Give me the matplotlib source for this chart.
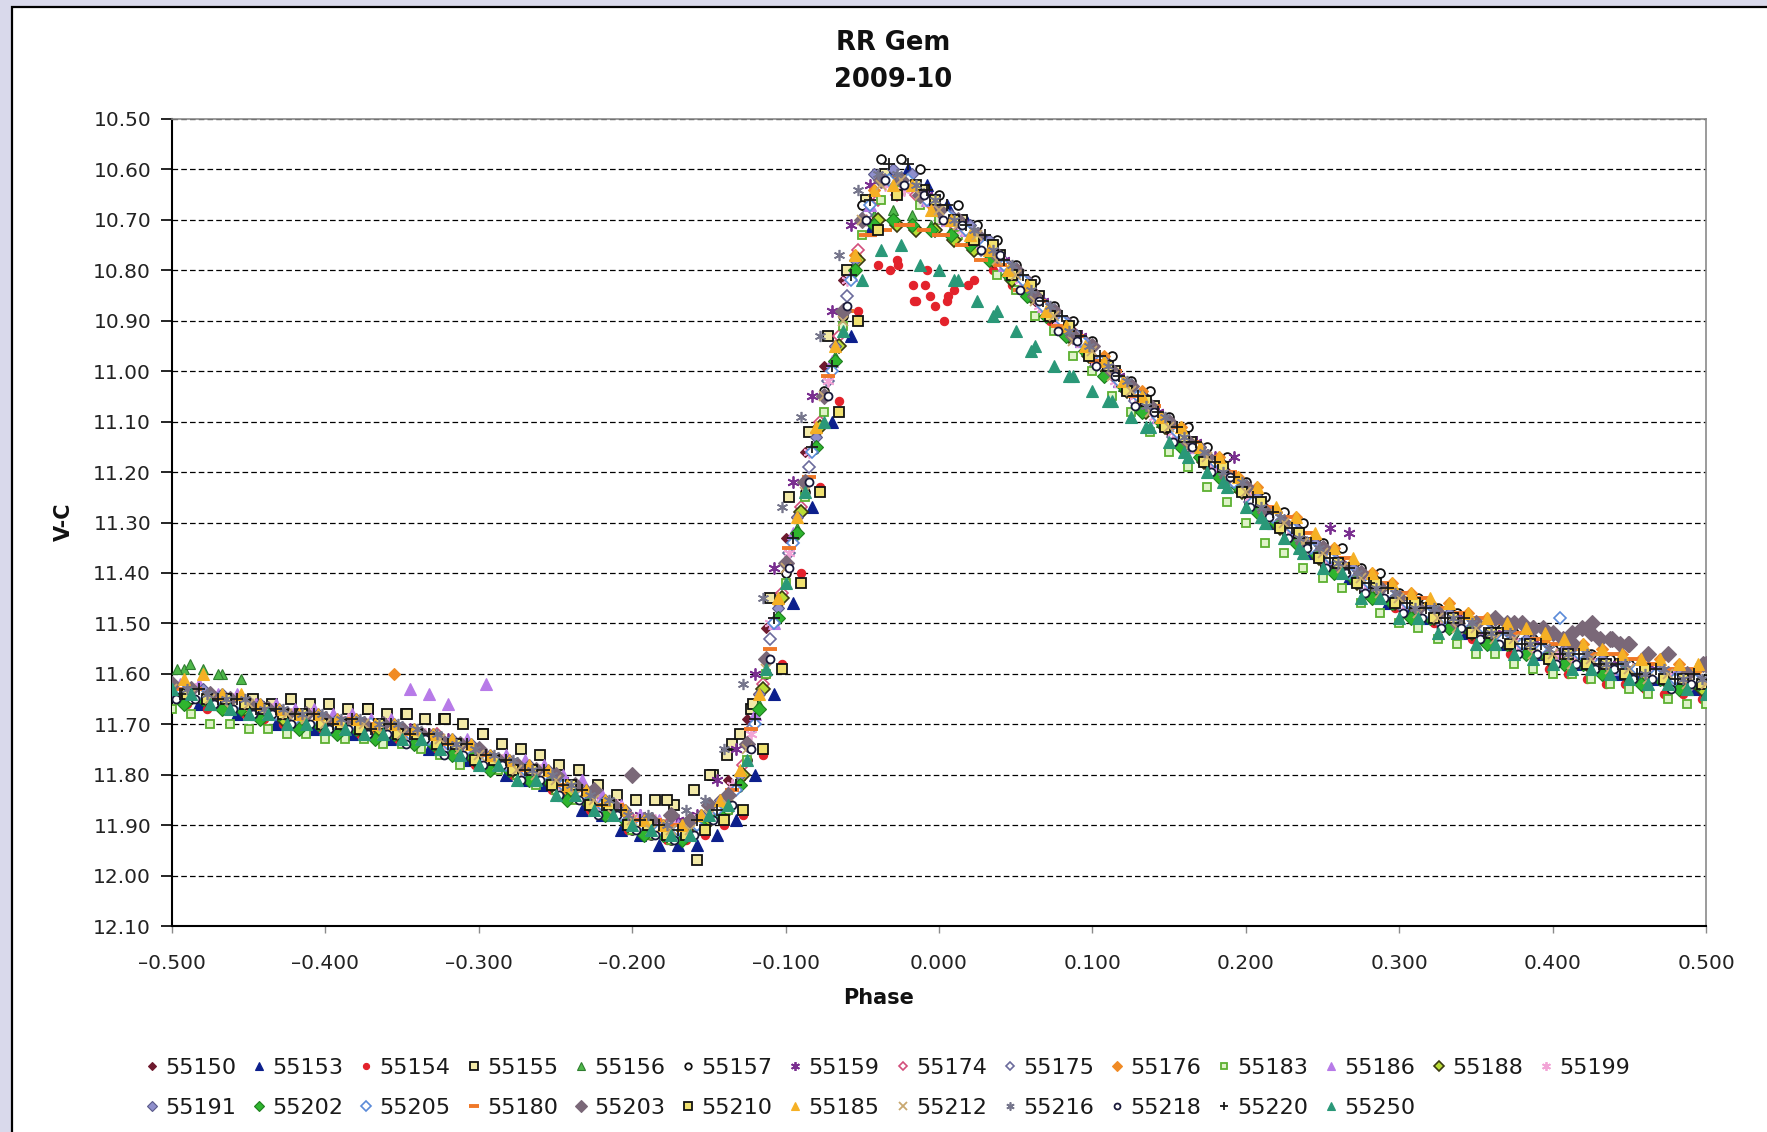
import numpy as np
import matplotlib
matplotlib.use("Agg")
import matplotlib.pyplot as plt
from matplotlib.lines import Line2D
from matplotlib.patches import Rectangle

plt.rcParams['font.family'] = ['DejaVu Sans']

# ---------------- data: phase samples ----------------
P0 = [-0.500, -0.475, -0.450, -0.425, -0.400, -0.375, -0.350, -0.325, -0.300, -0.275, -0.250, -0.225, -0.200, -0.175,
      -0.150, -0.125, -0.100, -0.075, -0.050, -0.025, 0.000, 0.025, 0.050, 0.075, 0.100, 0.125, 0.150, 0.175, 0.200,
      0.225, 0.250, 0.275, 0.300, 0.325, 0.350, 0.375, 0.400, 0.425, 0.450, 0.475, 0.500]
P1 = [-0.495, -0.470, -0.445, -0.420, -0.395, -0.370, -0.345, -0.320, -0.295, -0.270, -0.245, -0.220, -0.195, -0.170,
      -0.145, -0.120, -0.095, -0.070, -0.045, -0.020, 0.005, 0.030, 0.055, 0.080, 0.105, 0.130, 0.155, 0.180, 0.205,
      0.230, 0.255, 0.280, 0.305, 0.330, 0.355, 0.380, 0.405, 0.430, 0.455, 0.480]
P2 = [-0.490, -0.465, -0.440, -0.415, -0.390, -0.365, -0.340, -0.315, -0.290, -0.265, -0.240, -0.215, -0.190, -0.165,
      -0.140, -0.115, -0.090, -0.065, -0.040, -0.015, 0.010, 0.035, 0.060, 0.085, 0.110, 0.135, 0.160, 0.185, 0.210,
      0.235, 0.260, 0.285, 0.310, 0.335, 0.360, 0.385, 0.410, 0.435, 0.460, 0.485]
P3 = [-0.485, -0.460, -0.435, -0.410, -0.385, -0.360, -0.335, -0.310, -0.285, -0.260, -0.235, -0.210, -0.185, -0.160,
      -0.135, -0.110, -0.085, -0.060, -0.035, -0.010, 0.015, 0.040, 0.065, 0.090, 0.115, 0.140, 0.165, 0.190, 0.215,
      0.240, 0.265, 0.290, 0.315, 0.340, 0.365, 0.390, 0.415, 0.440, 0.465, 0.490]
P4 = [-0.480, -0.455, -0.430, -0.405, -0.380, -0.355, -0.330, -0.305, -0.280, -0.255, -0.230, -0.205, -0.180, -0.155,
      -0.130, -0.105, -0.080, -0.055, -0.030, -0.005, 0.020, 0.045, 0.070, 0.095, 0.120, 0.145, 0.170, 0.195, 0.220,
      0.245, 0.270, 0.295, 0.320, 0.345, 0.370, 0.395, 0.420, 0.445, 0.470, 0.495]
Q0 = [-0.4875, -0.4625, -0.4375, -0.4125, -0.3875, -0.3625, -0.3375, -0.3125, -0.2875, -0.2625, -0.2375, -0.2125,
      -0.1875, -0.1625, -0.1375, -0.1125, -0.0875, -0.0625, -0.0375, -0.0125, 0.0125, 0.0375, 0.0625, 0.0875, 0.1125,
      0.1375, 0.1625, 0.1875, 0.2125, 0.2375, 0.2625, 0.2875, 0.3125, 0.3375, 0.3625, 0.3875, 0.4125, 0.4375, 0.4625, 0.4875]
Q1 = [-0.4825, -0.4575, -0.4325, -0.4075, -0.3825, -0.3575, -0.3325, -0.3075, -0.2825, -0.2575, -0.2325, -0.2075,
      -0.1825, -0.1575, -0.1325, -0.1075, -0.0825, -0.0575, -0.0325, -0.0075, 0.0175, 0.0425, 0.0675, 0.0925, 0.1175,
      0.1425, 0.1675, 0.1925, 0.2175, 0.2425, 0.2675, 0.2925, 0.3175, 0.3425, 0.3675, 0.3925, 0.4175, 0.4425, 0.4675, 0.4925]
Q2 = [-0.4775, -0.4525, -0.4275, -0.4025, -0.3775, -0.3525, -0.3275, -0.3025, -0.2775, -0.2525, -0.2275, -0.2025,
      -0.1775, -0.1525, -0.1275, -0.1025, -0.0775, -0.0525, -0.0275, -0.0025, 0.0225, 0.0475, 0.0725, 0.0975, 0.1225,
      0.1475, 0.1725, 0.1975, 0.2225, 0.2475, 0.2725, 0.2975, 0.3225, 0.3475, 0.3725, 0.3975, 0.4225, 0.4475, 0.4725, 0.4975]
Q3 = [-0.4975, -0.4725, -0.4475, -0.4225, -0.3975, -0.3725, -0.3475, -0.3225, -0.2975, -0.2725, -0.2475, -0.2225,
      -0.1975, -0.1725, -0.1475, -0.1225, -0.0975, -0.0725, -0.0475, -0.0225, 0.0025, 0.0275, 0.0525, 0.0775, 0.1025,
      0.1275, 0.1525, 0.1775, 0.2025, 0.2275, 0.2525, 0.2775, 0.3025, 0.3275, 0.3525, 0.3775, 0.4025, 0.4275, 0.4525, 0.4775]
Q4 = [-0.4925, -0.4675, -0.4425, -0.4175, -0.3925, -0.3675, -0.3425, -0.3175, -0.2925, -0.2675, -0.2425, -0.2175,
      -0.1925, -0.1675, -0.1425, -0.1175, -0.0925, -0.0675, -0.0425, -0.0175, 0.0075, 0.0325, 0.0575, 0.0825, 0.1075,
      0.1325, 0.1575, 0.1825, 0.2075, 0.2325, 0.2575, 0.2825, 0.3075, 0.3325, 0.3575, 0.3825, 0.4075, 0.4325, 0.4575, 0.4825]

# ---------------- data: V-C magnitudes, first sample set (on P grids) ----------------
M_55150 = [11.63, 11.65, 11.67, 11.68, 11.70, 11.70, 11.72, 11.74, 11.76, 11.79, 11.82, 11.86, 11.89, 11.91, 11.86, 11.69, 11.33, 10.99, 10.67, 10.63,
           10.69, 10.74, 10.81, 10.89, 10.97, 11.04, 11.12, 11.18, 11.24, 11.31, 11.36, 11.41, 11.46, 11.49, 11.51, 11.54, 11.56, 11.58, 11.59, 11.61, 11.62]
M_55157 = [11.64, 11.66, 11.68, 11.69, 11.71, 11.71, 11.73, 11.75, 11.77, 11.80, 11.83, 11.87, 11.91, 11.93, 11.89, 11.77, 11.40, 11.04, 10.67, 10.58,
           10.65, 10.71, 10.79, 10.87, 10.94, 11.02, 11.09, 11.15, 11.22, 11.28, 11.34, 11.39, 11.44, 11.47, 11.50, 11.52, 11.55, 11.56, 11.58, 11.60, 11.61]
M_55183 = [11.67, 11.70, 11.71, 11.72, 11.73, 11.73, 11.74, 11.76, 11.78, 11.80, 11.83, 11.87, 11.91, 11.93, 11.89, 11.77, 11.42, 11.08, 10.73, 10.64,
           10.70, 10.76, 10.84, 10.92, 11.00, 11.08, 11.16, 11.23, 11.30, 11.36, 11.41, 11.46, 11.50, 11.53, 11.56, 11.58, 11.60, 11.61, 11.63, 11.65, 11.66]
M_55203 = [11.62, 11.64, 11.66, 11.68, 11.69, 11.70, 11.71, 11.73, 11.75, 11.78, 11.80, 11.83, 11.80, 11.88, 11.86, 11.74, 11.38, 11.05, 10.70, 10.62,
           10.68, 10.73, 10.80, 10.88, 10.95, 11.03, 11.10, 11.17, 11.23, 11.30, 11.35, 11.40, 11.45, 11.48, 11.50, 11.50, 11.52, 11.52, 11.54, 11.56, 11.58]
M_55212 = [11.63, 11.65, 11.66, 11.68, 11.70, 11.70, 11.72, 11.73, 11.76, 11.79, 11.81, 11.85, 11.89, 11.91, 11.88, 11.75, 11.39, 11.05, 10.70, 10.62,
           10.68, 10.73, 10.81, 10.89, 10.96, 11.04, 11.11, 11.17, 11.24, 11.30, 11.36, 11.41, 11.45, 11.49, 11.51, 11.53, 11.56, 11.57, 11.59, 11.60, 11.62]
M_55250 = [11.63, 11.66, 11.68, 11.70, 11.71, 11.72, 11.73, 11.75, 11.78, 11.81, 11.84, 11.87, 11.90, 11.92, 11.88, 11.77, 11.42, 11.10, 10.82, 10.75,
           10.80, 10.86, 10.92, 10.99, 11.04, 11.09, 11.14, 11.20, 11.27, 11.33, 11.39, 11.45, 11.49, 11.52, 11.54, 11.56, 11.58, 11.59, 11.61, 11.62, 11.64]

M_55153 = [11.64, 11.66, 11.68, 11.70, 11.71, 11.72, 11.73, 11.75, 11.78, 11.81, 11.84, 11.88, 11.92, 11.94, 11.92, 11.80, 11.46, 11.10, 10.72, 10.60,
           10.67, 10.74, 10.82, 10.90, 10.98, 11.05, 11.12, 11.18, 11.25, 11.31, 11.37, 11.42, 11.47, 11.50, 11.52, 11.55, 11.57, 11.59, 11.60, 11.62]
M_55159 = [11.63, 11.65, 11.66, 11.68, 11.69, 11.70, 11.71, 11.73, 11.76, 11.78, 11.81, 11.85, 11.88, 11.89, 11.81, 11.60, 11.22, 10.88, 10.63, 10.62,
           10.69, 10.75, 10.83, 10.90, 10.98, 11.06, 11.12, 11.17, 11.25, 11.32, 11.31, 11.42, 11.46, 11.49, 11.52, 11.54, 11.56, 11.58, 11.59, 11.61]
M_55186 = [11.62, 11.64, 11.66, 11.67, 11.68, 11.69, 11.63, 11.66, 11.62, 11.77, 11.80, 11.84, 11.88, 11.90, 11.86, 11.68, 11.32, 10.98, 10.67, 10.63,
           10.70, 10.75, 10.83, 10.91, 10.98, 11.06, 11.12, 11.19, 11.26, 11.32, 11.37, 11.42, 11.46, 11.49, 11.52, 11.54, 11.56, 11.58, 11.59, 11.60]
M_55205 = [11.63, 11.65, 11.67, 11.69, 11.70, 11.70, 11.72, 11.74, 11.77, 11.79, 11.82, 11.86, 11.90, 11.91, 11.87, 11.70, 11.34, 11.00, 10.67, 10.62,
           10.69, 10.75, 10.82, 10.90, 10.98, 11.05, 11.12, 11.18, 11.26, 11.31, 11.37, 11.42, 11.46, 11.49, 11.51, 11.54, 11.49, 11.58, 11.59, 11.61]
M_55220 = [11.64, 11.65, 11.67, 11.68, 11.70, 11.71, 11.72, 11.74, 11.76, 11.79, 11.82, 11.86, 11.89, 11.91, 11.87, 11.69, 11.33, 10.99, 10.66, 10.59,
           10.67, 10.73, 10.81, 10.89, 10.97, 11.05, 11.11, 11.18, 11.25, 11.31, 11.37, 11.42, 11.46, 11.49, 11.52, 11.54, 11.56, 11.58, 11.60, 11.61]

M_55154 = [11.66, 11.67, 11.69, 11.70, 11.71, 11.72, 11.73, 11.76, 11.78, 11.81, 11.84, 11.88, 11.92, 11.93, 11.90, 11.76, 11.40, 11.06, 10.79, 10.86,
           10.84, 10.80, 10.85, 10.93, 11.00, 11.07, 11.14, 11.20, 11.27, 11.33, 11.38, 11.43, 11.47, 11.50, 11.53, 11.56, 11.60, 11.62, 11.63, 11.64]
M_55174 = [11.63, 11.65, 11.67, 11.69, 11.70, 11.71, 11.72, 11.74, 11.77, 11.79, 11.83, 11.86, 11.89, 11.90, 11.85, 11.62, 11.27, 10.93, 10.66, 10.65,
           10.71, 10.76, 10.84, 10.92, 10.99, 11.07, 11.13, 11.20, 11.27, 11.33, 11.38, 11.43, 11.47, 11.50, 11.52, 11.55, 11.57, 11.58, 11.60, 11.61]
M_55188 = [11.64, 11.66, 11.67, 11.69, 11.70, 11.71, 11.72, 11.75, 11.77, 11.80, 11.83, 11.87, 11.90, 11.91, 11.86, 11.63, 11.28, 10.95, 10.70, 10.72,
           10.74, 10.78, 10.85, 10.93, 11.00, 11.08, 11.14, 11.21, 11.27, 11.33, 11.39, 11.43, 11.47, 11.50, 11.52, 11.55, 11.57, 11.59, 11.60, 11.61]
M_55210 = [11.64, 11.65, 11.67, 11.68, 11.70, 11.70, 11.72, 11.74, 11.77, 11.79, 11.82, 11.86, 11.90, 11.92, 11.89, 11.75, 11.42, 11.08, 10.72, 10.63,
           10.70, 10.75, 10.83, 10.91, 10.99, 11.06, 11.13, 11.19, 11.26, 11.32, 11.38, 11.42, 11.46, 11.49, 11.52, 11.54, 11.56, 11.58, 11.59, 11.61]
M_55216 = [11.63, 11.65, 11.67, 11.68, 11.69, 11.70, 11.71, 11.74, 11.76, 11.79, 11.82, 11.85, 11.88, 11.87, 11.75, 11.45, 11.09, 10.77, 10.61, 10.63,
           10.70, 10.76, 10.84, 10.92, 10.99, 11.07, 11.13, 11.20, 11.27, 11.33, 11.38, 11.43, 11.47, 11.49, 11.52, 11.54, 11.56, 11.58, 11.60, 11.61]

M_55155 = [11.64, 11.66, 11.66, 11.66, 11.67, 11.68, 11.69, 11.70, 11.74, 11.76, 11.79, 11.84, 11.85, 11.83, 11.74, 11.45, 11.12, 10.80, 10.61, 10.64,
           10.70, 10.77, 10.85, 10.93, 11.00, 11.07, 11.14, 11.21, 11.28, 11.34, 11.39, 11.44, 11.47, 11.50, 11.52, 11.55, 11.57, 11.58, 11.60, 11.61]
M_55175 = [11.64, 11.66, 11.68, 11.69, 11.70, 11.71, 11.73, 11.75, 11.78, 11.80, 11.84, 11.87, 11.90, 11.90, 11.83, 11.53, 11.19, 10.85, 10.62, 10.65,
           10.72, 10.78, 10.86, 10.93, 11.01, 11.08, 11.15, 11.21, 11.28, 11.34, 11.39, 11.44, 11.48, 11.50, 11.53, 11.55, 11.57, 11.59, 11.60, 11.61]
M_55199 = [11.63, 11.65, 11.67, 11.68, 11.69, 11.70, 11.72, 11.74, 11.77, 11.79, 11.83, 11.86, 11.89, 11.89, 11.82, 11.50, 11.16, 10.82, 10.63, 10.66,
           10.72, 10.78, 10.87, 10.94, 11.02, 11.09, 11.15, 11.22, 11.29, 11.35, 11.40, 11.44, 11.48, 11.51, 11.53, 11.55, 11.57, 11.59, 11.60, 11.62]
M_55180 = [11.63, 11.65, 11.67, 11.68, 11.69, 11.70, 11.72, 11.74, 11.77, 11.79, 11.83, 11.86, 11.89, 11.89, 11.83, 11.55, 11.21, 10.88, 10.72, 10.72,
           10.75, 10.79, 10.86, 10.93, 11.00, 11.07, 11.14, 11.20, 11.27, 11.32, 11.37, 11.42, 11.45, 11.48, 11.50, 11.53, 11.55, 11.56, 11.58, 11.59]
M_55218 = [11.65, 11.67, 11.68, 11.70, 11.71, 11.72, 11.73, 11.76, 11.78, 11.81, 11.85, 11.88, 11.92, 11.92, 11.86, 11.57, 11.22, 10.87, 10.62, 10.65,
           10.71, 10.77, 10.86, 10.94, 11.01, 11.08, 11.15, 11.21, 11.29, 11.35, 11.40, 11.45, 11.49, 11.51, 11.54, 11.56, 11.58, 11.59, 11.61, 11.62]

M_55156 = [11.59, 11.61, 11.67, 11.69, 11.70, 11.71, 11.72, 11.75, 11.78, 11.80, 11.84, 11.88, 11.91, 11.89, 11.80, 11.46, 11.12, 10.79, 10.68, 10.71,
           10.74, 10.80, 10.88, 10.95, 11.03, 11.10, 11.16, 11.23, 11.29, 11.35, 11.40, 11.45, 11.48, 11.51, 11.53, 11.56, 11.57, 11.59, 11.60, 11.62]
M_55176 = [11.64, 11.66, 11.68, 11.69, 11.70, 11.60, 11.72, 11.75, 11.77, 11.80, 11.83, 11.87, 11.90, 11.88, 11.80, 11.46, 11.12, 10.77, 10.62, 10.67,
           10.72, 10.79, 10.87, 10.94, 11.02, 11.09, 11.15, 11.21, 11.28, 11.33, 11.38, 11.42, 11.46, 11.48, 11.50, 11.53, 11.54, 11.56, 11.57, 11.59]
M_55191 = [11.63, 11.65, 11.67, 11.68, 11.69, 11.70, 11.72, 11.74, 11.77, 11.79, 11.83, 11.87, 11.90, 11.88, 11.80, 11.47, 11.13, 10.78, 10.60, 10.66,
           10.71, 10.79, 10.87, 10.94, 11.02, 11.09, 11.15, 11.22, 11.28, 11.34, 11.39, 11.44, 11.47, 11.50, 11.52, 11.55, 11.56, 11.58, 11.59, 11.61]
M_55202 = [11.65, 11.67, 11.68, 11.70, 11.71, 11.72, 11.74, 11.76, 11.79, 11.81, 11.85, 11.89, 11.92, 11.90, 11.82, 11.49, 11.15, 10.80, 10.70, 10.72,
           10.75, 10.81, 10.89, 10.96, 11.03, 11.10, 11.17, 11.23, 11.30, 11.36, 11.41, 11.46, 11.49, 11.51, 11.54, 11.56, 11.58, 11.59, 11.61, 11.62]
M_55185 = [11.60, 11.64, 11.67, 11.68, 11.69, 11.70, 11.72, 11.74, 11.77, 11.79, 11.83, 11.87, 11.90, 11.88, 11.79, 11.45, 11.11, 10.77, 10.63, 10.68,
           10.73, 10.80, 10.88, 10.95, 11.02, 11.09, 11.15, 11.21, 11.27, 11.32, 11.37, 11.42, 11.45, 11.48, 11.50, 11.52, 11.54, 11.56, 11.57, 11.58]

# ---------------- data: second sample set (on Q grids) ----------------
N_55150 = [11.65, 11.66, 11.68, 11.69, 11.71, 11.70, 11.73, 11.74, 11.78, 11.79, 11.84, 11.86, 11.91, 11.89, 11.81, 11.51, 11.16, 10.82, 10.61, 10.65,
           10.71, 10.77, 10.86, 10.92, 11.01, 11.07, 11.15, 11.20, 11.27, 11.34, 11.38, 11.44, 11.47, 11.51, 11.52, 11.56, 11.57, 11.59, 11.60, 11.62]
N_55157 = [11.65, 11.67, 11.68, 11.70, 11.71, 11.72, 11.73, 11.76, 11.78, 11.81, 11.84, 11.88, 11.92, 11.92, 11.87, 11.60, 11.24, 10.89, 10.58, 10.60,
           10.67, 10.74, 10.82, 10.90, 10.97, 11.04, 11.11, 11.17, 11.25, 11.30, 11.35, 11.40, 11.45, 11.48, 11.50, 11.53, 11.55, 11.57, 11.59, 11.60]
N_55183 = [11.68, 11.70, 11.71, 11.72, 11.73, 11.74, 11.75, 11.78, 11.79, 11.82, 11.85, 11.88, 11.92, 11.92, 11.87, 11.60, 11.25, 10.91, 10.66, 10.67,
           10.73, 10.81, 10.89, 10.97, 11.05, 11.12, 11.19, 11.26, 11.34, 11.39, 11.43, 11.48, 11.51, 11.54, 11.56, 11.59, 11.60, 11.62, 11.64, 11.66]
N_55203 = [11.63, 11.65, 11.67, 11.68, 11.70, 11.70, 11.72, 11.74, 11.77, 11.79, 11.82, 11.86, 11.89, 11.89, 11.84, 11.57, 11.22, 10.88, 10.62, 10.65,
           10.70, 10.77, 10.85, 10.93, 11.00, 11.07, 11.14, 11.21, 11.28, 11.34, 11.39, 11.43, 11.47, 11.50, 11.49, 11.51, 11.52, 11.53, 11.56, 11.60]
N_55212 = [11.64, 11.67, 11.68, 11.69, 11.71, 11.72, 11.73, 11.75, 11.78, 11.80, 11.84, 11.88, 11.91, 11.91, 11.86, 11.59, 11.24, 10.90, 10.63, 10.65,
           10.71, 10.78, 10.86, 10.94, 11.01, 11.08, 11.15, 11.21, 11.29, 11.34, 11.39, 11.44, 11.48, 11.51, 11.53, 11.56, 11.58, 11.59, 11.61, 11.62]
N_55250 = [11.64, 11.67, 11.68, 11.70, 11.71, 11.72, 11.73, 11.76, 11.78, 11.81, 11.84, 11.88, 11.91, 11.92, 11.86, 11.59, 11.24, 10.92, 10.76, 10.79,
           10.82, 10.88, 10.95, 11.01, 11.06, 11.11, 11.17, 11.23, 11.30, 11.36, 11.40, 11.45, 11.49, 11.52, 11.54, 11.57, 11.59, 11.60, 11.62, 11.63]

N_55153 = [11.66, 11.68, 11.70, 11.71, 11.72, 11.73, 11.75, 11.77, 11.80, 11.82, 11.87, 11.91, 11.94, 11.94, 11.89, 11.64, 11.27, 10.93, 10.61, 10.63,
           10.70, 10.78, 10.86, 10.94, 11.02, 11.09, 11.15, 11.22, 11.30, 11.36, 11.41, 11.46, 11.49, 11.52, 11.54, 11.56, 11.58, 11.60, 11.61, 11.63]
N_55159 = [11.63, 11.65, 11.67, 11.68, 11.69, 11.70, 11.72, 11.74, 11.77, 11.79, 11.83, 11.87, 11.90, 11.88, 11.75, 11.39, 11.05, 10.71, 10.62, 10.65,
           10.71, 10.78, 10.86, 10.93, 11.01, 11.08, 11.14, 11.17, 11.28, 11.34, 11.32, 11.43, 11.47, 11.49, 11.52, 11.54, 11.56, 11.58, 11.59, 11.60]
N_55186 = [11.62, 11.64, 11.66, 11.67, 11.68, 11.69, 11.64, 11.73, 11.76, 11.78, 11.81, 11.86, 11.89, 11.89, 11.82, 11.50, 11.15, 10.81, 10.62, 10.66,
           10.72, 10.79, 10.87, 10.94, 11.02, 11.09, 11.15, 11.22, 11.29, 11.35, 11.40, 11.44, 11.48, 11.50, 11.53, 11.55, 11.57, 11.59, 11.60, 11.61]
N_55205 = [11.64, 11.66, 11.68, 11.69, 11.70, 11.71, 11.73, 11.75, 11.78, 11.80, 11.84, 11.88, 11.91, 11.90, 11.83, 11.50, 11.16, 10.82, 10.62, 10.66,
           10.72, 10.79, 10.87, 10.94, 11.02, 11.09, 11.15, 11.22, 11.29, 11.35, 11.40, 11.44, 11.48, 11.50, 11.53, 11.55, 11.56, 11.59, 11.60, 11.61]
N_55220 = [11.63, 11.65, 11.67, 11.68, 11.69, 11.70, 11.72, 11.74, 11.77, 11.79, 11.83, 11.87, 11.90, 11.89, 11.82, 11.49, 11.15, 10.81, 10.59, 10.64,
           10.71, 10.78, 10.86, 10.93, 11.01, 11.08, 11.14, 11.21, 11.28, 11.34, 11.39, 11.43, 11.47, 11.49, 11.52, 11.54, 11.56, 11.58, 11.59, 11.60]

N_55154 = [11.67, 11.68, 11.70, 11.71, 11.72, 11.73, 11.75, 11.78, 11.80, 11.83, 11.87, 11.91, 11.93, 11.92, 11.88, 11.58, 11.23, 10.88, 10.78, 10.87,
           10.82, 10.83, 10.90, 10.97, 11.04, 11.11, 11.18, 11.24, 11.31, 11.37, 11.42, 11.47, 11.50, 11.53, 11.56, 11.59, 11.61, 11.62, 11.64, 11.65]
N_55174 = [11.64, 11.66, 11.68, 11.69, 11.71, 11.71, 11.72, 11.75, 11.78, 11.80, 11.84, 11.88, 11.90, 11.89, 11.78, 11.44, 11.10, 10.76, 10.65, 10.68,
           10.74, 10.81, 10.88, 10.96, 11.03, 11.10, 11.17, 11.23, 11.30, 11.36, 11.41, 11.45, 11.49, 11.51, 11.53, 11.56, 11.57, 11.59, 11.60, 11.62]
N_55188 = [11.65, 11.67, 11.69, 11.70, 11.71, 11.72, 11.74, 11.77, 11.79, 11.82, 11.86, 11.90, 11.92, 11.90, 11.80, 11.45, 11.11, 10.78, 10.71, 10.72,
           10.76, 10.82, 10.89, 10.97, 11.04, 11.11, 11.18, 11.24, 11.31, 11.37, 11.42, 11.46, 11.49, 11.52, 11.54, 11.57, 11.58, 11.60, 11.61, 11.63]
N_55210 = [11.65, 11.66, 11.68, 11.70, 11.71, 11.72, 11.74, 11.77, 11.79, 11.82, 11.86, 11.90, 11.92, 11.91, 11.87, 11.59, 11.24, 10.90, 10.65, 10.66,
           10.74, 10.81, 10.89, 10.97, 11.04, 11.11, 11.18, 11.24, 11.31, 11.37, 11.42, 11.46, 11.49, 11.52, 11.54, 11.57, 11.58, 11.60, 11.61, 11.62]
N_55216 = [11.64, 11.65, 11.67, 11.68, 11.69, 11.70, 11.72, 11.75, 11.77, 11.80, 11.84, 11.88, 11.90, 11.85, 11.62, 11.27, 10.93, 10.64, 10.61, 10.66,
           10.72, 10.79, 10.87, 10.95, 11.02, 11.09, 11.16, 11.22, 11.29, 11.35, 11.40, 11.44, 11.47, 11.50, 11.52, 11.55, 11.56, 11.58, 11.59, 11.61]

N_55155 = [11.63, 11.65, 11.65, 11.65, 11.66, 11.67, 11.68, 11.69, 11.72, 11.75, 11.78, 11.82, 11.85, 11.86, 11.80, 11.67, 11.25, 10.93, 10.66, 10.62,
           10.68, 10.75, 10.83, 10.91, 10.98, 11.05, 11.12, 11.19, 11.26, 11.32, 11.38, 11.43, 11.46, 11.49, 11.51, 11.54, 11.56, 11.58, 11.59, 11.61]
N_55175 = [11.64, 11.66, 11.68, 11.69, 11.71, 11.71, 11.73, 11.75, 11.77, 11.80, 11.83, 11.87, 11.90, 11.92, 11.88, 11.71, 11.36, 11.02, 10.69, 10.63,
           10.70, 10.76, 10.83, 10.91, 10.99, 11.06, 11.13, 11.20, 11.26, 11.32, 11.38, 11.43, 11.47, 11.50, 11.52, 11.55, 11.57, 11.59, 11.60, 11.62]
N_55199 = [11.63, 11.65, 11.67, 11.68, 11.70, 11.70, 11.72, 11.74, 11.77, 11.79, 11.82, 11.86, 11.89, 11.90, 11.87, 11.72, 11.36, 11.02, 10.70, 10.64,
           10.70, 10.75, 10.82, 10.90, 10.98, 11.05, 11.12, 11.19, 11.25, 11.31, 11.37, 11.42, 11.46, 11.49, 11.51, 11.54, 11.56, 11.58, 11.59, 11.61]
N_55180 = [11.63, 11.65, 11.67, 11.68, 11.70, 11.70, 11.72, 11.74, 11.76, 11.79, 11.82, 11.86, 11.89, 11.90, 11.86, 11.71, 11.35, 11.01, 10.73, 10.71,
           10.73, 10.78, 10.84, 10.91, 10.98, 11.05, 11.11, 11.17, 11.23, 11.29, 11.35, 11.40, 11.44, 11.47, 11.49, 11.52, 11.54, 11.56, 11.57, 11.59]
N_55218 = [11.65, 11.66, 11.68, 11.70, 11.71, 11.72, 11.74, 11.76, 11.78, 11.81, 11.84, 11.88, 11.91, 11.93, 11.89, 11.75, 11.39, 11.05, 10.70, 10.63,
           10.70, 10.76, 10.84, 10.92, 10.99, 11.07, 11.14, 11.20, 11.27, 11.33, 11.39, 11.44, 11.48, 11.51, 11.53, 11.56, 11.58, 11.59, 11.61, 11.63]

N_55156 = [11.59, 11.60, 11.66, 11.70, 11.71, 11.72, 11.73, 11.75, 11.78, 11.80, 11.84, 11.87, 11.91, 11.92, 11.87, 11.66, 11.31, 10.97, 10.69, 10.69,
           10.72, 10.77, 10.84, 10.92, 11.00, 11.07, 11.14, 11.20, 11.27, 11.33, 11.39, 11.44, 11.48, 11.50, 11.53, 11.55, 11.57, 11.59, 11.61, 11.62]
N_55176 = [11.64, 11.65, 11.67, 11.69, 11.70, 11.71, 11.72, 11.74, 11.77, 11.79, 11.83, 11.86, 11.90, 11.90, 11.85, 11.64, 11.29, 10.95, 10.64, 10.63,
           10.70, 10.75, 10.82, 10.90, 10.97, 11.04, 11.11, 11.17, 11.23, 11.29, 11.35, 11.40, 11.44, 11.46, 11.49, 11.51, 11.53, 11.55, 11.57, 11.58]
N_55191 = [11.63, 11.64, 11.66, 11.68, 11.69, 11.70, 11.71, 11.73, 11.76, 11.78, 11.82, 11.85, 11.89, 11.90, 11.85, 11.64, 11.29, 10.95, 10.61, 10.61,
           10.69, 10.74, 10.82, 10.90, 10.98, 11.05, 11.12, 11.18, 11.25, 11.31, 11.37, 11.42, 11.46, 11.48, 11.51, 11.53, 11.55, 11.57, 11.59, 11.60]
N_55202 = [11.66, 11.67, 11.69, 11.71, 11.72, 11.73, 11.74, 11.76, 11.79, 11.81, 11.85, 11.88, 11.92, 11.93, 11.88, 11.67, 11.32, 10.98, 10.71, 10.71,
           10.73, 10.78, 10.85, 10.93, 11.01, 11.08, 11.15, 11.21, 11.28, 11.34, 11.40, 11.45, 11.49, 11.51, 11.54, 11.56, 11.58, 11.60, 11.62, 11.63]
N_55185 = [11.61, 11.64, 11.66, 11.68, 11.69, 11.70, 11.71, 11.73, 11.76, 11.78, 11.82, 11.85, 11.89, 11.90, 11.85, 11.64, 11.29, 10.95, 10.64, 10.63,
           10.70, 10.76, 10.83, 10.91, 10.98, 11.05, 11.11, 11.17, 11.23, 11.29, 11.35, 11.40, 11.44, 11.46, 11.49, 11.51, 11.53, 11.55, 11.57, 11.58]

# ---------------- data: individual extra observations ----------------
X_55203_PH = [0.370, 0.380, 0.387, 0.394, 0.407, 0.413, 0.419, 0.426, 0.431, 0.439, 0.444, 0.449, 0.498]
X_55203_MG = [11.50, 11.50, 11.51, 11.51, 11.53, 11.54, 11.51, 11.50, 11.53, 11.53, 11.54, 11.54, 11.58]
X_55250_PH = [0.010, 0.035, 0.060, 0.085, 0.110, 0.135, 0.160, 0.185, 0.210, 0.235]
X_55250_MG = [10.82, 10.89, 10.96, 11.01, 11.06, 11.11, 11.16, 11.22, 11.29, 11.35]
X_55154_PH = [-0.032, -0.027, -0.017, -0.016, -0.009, -0.008, -0.006, 0.003, 0.005, 0.006, 0.019]
X_55154_MG = [10.80, 10.79, 10.83, 10.86, 10.83, 10.80, 10.85, 10.90, 10.86, 10.85, 10.83]
X_55155_PH = [-0.158, -0.149, -0.138, -0.130, -0.121, -0.177, -0.372, -0.347, -0.322, -0.297]
X_55155_MG = [11.97, 11.80, 11.76, 11.72, 11.66, 11.85, 11.67, 11.68, 11.69, 11.72]
X_55156_PH = [-0.497, -0.488, -0.470]
X_55156_MG = [11.59, 11.58, 11.60]
X_55180_PH = [-0.045, -0.025, -0.020, 0.000]
X_55180_MG = [10.73, 10.71, 10.71, 10.73]

ROW1 = ['55150', '55153', '55154', '55155', '55156', '55157', '55159', '55174', '55175', '55176', '55183', '55186', '55188', '55199']
ROW2 = ['55191', '55202', '55205', '55180', '55203', '55210', '55185', '55212', '55216', '55218', '55220', '55250']

GRID_A = {'55150': P0, '55157': P0, '55183': P0, '55203': P0, '55212': P0, '55250': P0,
          '55153': P1, '55159': P1, '55186': P1, '55205': P1, '55220': P1,
          '55154': P2, '55174': P2, '55188': P2, '55210': P2, '55216': P2,
          '55155': P3, '55175': P3, '55199': P3, '55180': P3, '55218': P3,
          '55156': P4, '55176': P4, '55191': P4, '55202': P4, '55185': P4}
GRID_B = {'55150': Q0, '55157': Q0, '55183': Q0, '55203': Q0, '55212': Q0, '55250': Q0,
          '55153': Q1, '55159': Q1, '55186': Q1, '55205': Q1, '55220': Q1,
          '55154': Q2, '55174': Q2, '55188': Q2, '55210': Q2, '55216': Q2,
          '55155': Q3, '55175': Q3, '55199': Q3, '55180': Q3, '55218': Q3,
          '55156': Q4, '55176': Q4, '55191': Q4, '55202': Q4, '55185': Q4}
MAGS_A = {'55150': M_55150, '55157': M_55157, '55183': M_55183, '55203': M_55203, '55212': M_55212, '55250': M_55250,
          '55153': M_55153, '55159': M_55159, '55186': M_55186, '55205': M_55205, '55220': M_55220,
          '55154': M_55154, '55174': M_55174, '55188': M_55188, '55210': M_55210, '55216': M_55216,
          '55155': M_55155, '55175': M_55175, '55199': M_55199, '55180': M_55180, '55218': M_55218,
          '55156': M_55156, '55176': M_55176, '55191': M_55191, '55202': M_55202, '55185': M_55185}
MAGS_B = {'55150': N_55150, '55157': N_55157, '55183': N_55183, '55203': N_55203, '55212': N_55212, '55250': N_55250,
          '55153': N_55153, '55159': N_55159, '55186': N_55186, '55205': N_55205, '55220': N_55220,
          '55154': N_55154, '55174': N_55174, '55188': N_55188, '55210': N_55210, '55216': N_55216,
          '55155': N_55155, '55175': N_55175, '55199': N_55199, '55180': N_55180, '55218': N_55218,
          '55156': N_55156, '55176': N_55176, '55191': N_55191, '55202': N_55202, '55185': N_55185}
EXTRA = {'55203': (X_55203_PH, X_55203_MG), '55250': (X_55250_PH, X_55250_MG), '55154': (X_55154_PH, X_55154_MG),
         '55155': (X_55155_PH, X_55155_MG), '55156': (X_55156_PH, X_55156_MG), '55180': (X_55180_PH, X_55180_MG)}

YTICKS = [10.5, 10.6, 10.7, 10.8, 10.9, 11.0, 11.1, 11.2, 11.3, 11.4, 11.5, 11.6, 11.7, 11.8, 11.9, 12.0, 12.1]
YLABELS = ['10.50', '10.60', '10.70', '10.80', '10.90', '11.00', '11.10', '11.20', '11.30', '11.40', '11.50',
           '11.60', '11.70', '11.80', '11.90', '12.00', '12.10']
XTICKS = [-0.5, -0.4, -0.3, -0.2, -0.1, 0.0, 0.1, 0.2, 0.3, 0.4, 0.5]
XLABELS = ['\u20130.500', '\u20130.400', '\u20130.300', '\u20130.200', '\u20130.100', '0.000',
           '0.100', '0.200', '0.300', '0.400', '0.500']

# ---------------- styles ----------------
# marker, size, face, edge, edge width
STYLE = {
    '55150': ('D', 4.4, '#6e1a2e', '#6e1a2e', 0.8),
    '55153': ('^', 7.5, '#0c1f8c', '#0c1f8c', 0.8),
    '55154': ('o', 5.2, '#e3222b', '#e3222b', 0.8),
    '55155': ('s', 6.0, '#f3eaa8', '#111111', 1.3),
    '55156': ('^', 6.0, '#4fb84a', '#2f7d30', 0.8),
    '55157': ('o', 5.5, '#ffffff', '#111111', 1.3),
    '55159': ((6, 2, 0), 7.5, '#7a2f90', '#7a2f90', 1.3),
    '55174': ('D', 5.2, '#ffffff', '#d24f7c', 1.2),
    '55175': ('D', 5.2, '#ffffff', '#6b6b9c', 1.2),
    '55176': ('D', 5.5, '#f08a24', '#f08a24', 0.8),
    '55183': ('s', 5.5, '#dff3c8', '#5cb030', 1.3),
    '55186': ('^', 7.0, '#b77ae8', '#b77ae8', 0.8),
    '55188': ('D', 6.0, '#b9dc35', '#3a3a12', 1.2),
    '55199': ((6, 2, 0), 7.5, '#f2a4d6', '#f2a4d6', 1.3),
    '55191': ('D', 5.5, '#8f8fcc', '#5a5a8a', 0.8),
    '55202': ('D', 6.0, '#2fb52f', '#1e7e1e', 0.8),
    '55205': ('D', 5.5, '#ffffff', '#5a8ad8', 1.2),
    '55180': ('_', 8.5, '#f07828', '#f07828', 2.8),
    '55203': ('D', 7.5, '#7a6878', '#7a6878', 0.8),
    '55210': ('s', 6.0, '#f0e170', '#111111', 1.3),
    '55185': ('^', 7.0, '#f5b025', '#f5b025', 0.8),
    '55212': ('x', 6.0, '#c8a870', '#c8a870', 1.3),
    '55216': ((6, 2, 0), 7.0, '#76768c', '#76768c', 1.2),
    '55218': ('o', 5.0, '#ffffff', '#1a1a3a', 1.3),
    '55220': ('+', 7.0, '#1a1a1a', '#1a1a1a', 1.3),
    '55250': ('^', 7.0, '#2a9878', '#2a9878', 0.8),
}
PLOT_SCALE = 1.15
LEGEND_SCALE = 0.85

# ---------------- figure ----------------
W, H = 1767, 1132
fig = plt.figure(figsize=(W / 100, H / 100), dpi=100)
fig.patch.set_facecolor('#d9d9eb')
fig.patches.append(Rectangle((12 / W, -0.02), 1.0, 1 - 7 / H + 0.02, transform=fig.transFigure,
                             facecolor='white', edgecolor='black', lw=1.6, zorder=-10))

ax = fig.add_axes([172 / W, 1 - 926 / H, (1706 - 172) / W, (926 - 119) / H])
ax.set_facecolor('white')
ax.set_zorder(1)

handles = {}
for key in ROW1 + ROW2:
    m, ms, fc, ec, mew = STYLE[key]
    ph = list(GRID_A[key]) + list(GRID_B[key])
    mg = list(MAGS_A[key]) + list(MAGS_B[key])
    if key in EXTRA:
        ph = ph + list(EXTRA[key][0])
        mg = mg + list(EXTRA[key][1])
    ax.plot(ph, mg, ls='none', marker=m, ms=ms * PLOT_SCALE, mfc=fc, mec=ec, mew=mew, zorder=3, label=key)
    handles[key] = Line2D([], [], ls='none', marker=m, ms=ms * LEGEND_SCALE, mfc=fc, mec=ec, mew=mew)

ax.set_xlim(-0.5, 0.5)
ax.set_ylim(12.10, 10.50)
ax.set_yticks(YTICKS)
ax.set_yticklabels(YLABELS)
ax.set_xticks(XTICKS)
ax.set_xticklabels(XLABELS)
ax.yaxis.grid(True, color='black', lw=0.9, ls=(0, (4.5, 2.5)))
ax.xaxis.grid(False)
ax.set_axisbelow(True)
for s in ['left', 'bottom']:
    ax.spines[s].set_color('black')
    ax.spines[s].set_linewidth(1.5)
for s in ['top', 'right']:
    ax.spines[s].set_color('#8a8a8a')
    ax.spines[s].set_linewidth(1.2)
ax.tick_params(axis='y', direction='out', length=8, width=1.2, pad=7, labelsize=14.5, labelcolor='#222222')
ax.tick_params(axis='x', direction='out', length=5, width=1.0, pad=15, labelsize=14.5, labelcolor='#222222',
               color='#8a8a8a')

fig.text(893 / W, 1 - 43 / H, 'RR Gem', ha='center', va='center', fontsize=18.5, fontweight='bold', color='#111111')
fig.text(893 / W, 1 - 80 / H, '2009-10', ha='center', va='center', fontsize=18.5, fontweight='bold', color='#111111')
fig.text(879 / W, 1 - 998 / H, 'Phase', ha='center', va='center', fontsize=15, fontweight='bold', color='#111111')
fig.text(64 / W, 1 - 522 / H, 'V-C', ha='center', va='center', rotation=90, fontsize=15, fontweight='bold',
         color='#111111')

# legend: two rows, column-major ordering with two blank slots
blank = Line2D([], [], ls='none')
leg_h, leg_l = [], []
for i in range(len(ROW1)):
    leg_h.append(handles[ROW1[i]]); leg_l.append(ROW1[i])
    if i < len(ROW2):
        leg_h.append(handles[ROW2[i]]); leg_l.append(ROW2[i])
    else:
        leg_h.append(blank); leg_l.append('')
fig.legend(leg_h, leg_l, ncol=14, loc='upper left', bbox_to_anchor=(145 / W, 1 - 1058 / H),
           frameon=False, fontsize=16, handlelength=0.6, handletextpad=0.3, columnspacing=0.73,
           labelspacing=0.9, borderpad=0, borderaxespad=0, labelcolor='#1a1a1a')

fig.savefig('out.png', dpi=100, facecolor=fig.get_facecolor())
